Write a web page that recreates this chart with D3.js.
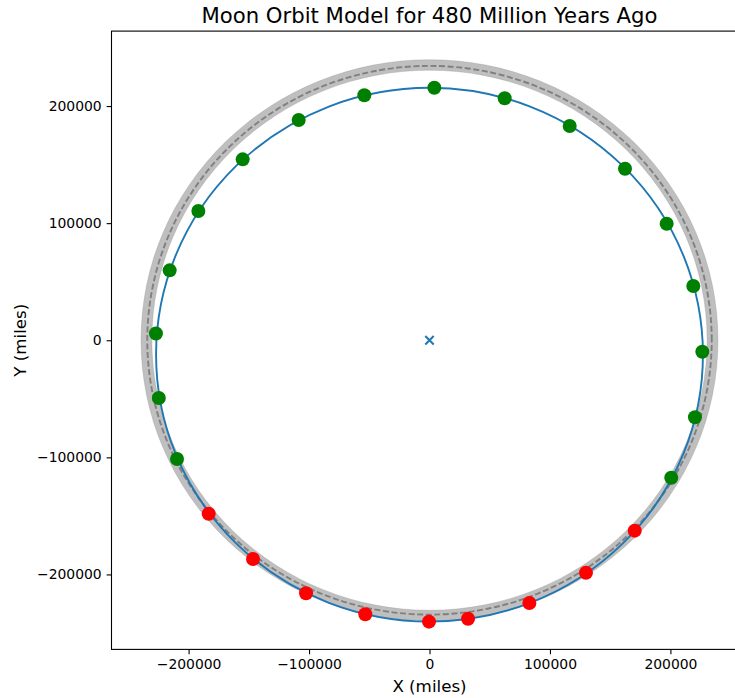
<!DOCTYPE html>
<html>
<head>
<meta charset="utf-8">
<script src="https://cdn.jsdelivr.net/npm/d3@7"></script>
<style>
  body { margin: 0; background: #fff; }
  text { font-family: "DejaVu Sans", sans-serif; }
</style>
</head>
<body>
<div id="chart"></div>
<script>
const width = 735;
const height = 698;

// moon positions (miles)
const moonX = [226500, 219000, 196900, 162300, 116400, 62400, 4000, -54100, -108600, -155100,
    -191900, -215700, -227100, -224700, -209600, -183300, -146500, -102500, -53300, -400,
    32000, 82900, 129900, 170400, 200700, 220400];
const moonY = [-9800, 46300, 99500, 146500, 182900, 206600, 215600, 209200, 188100, 154500,
    110400, 59700, 5800, -49300, -101400, -148100, -186800, -216100, -234000, -240300,
    -237800, -224400, -198500, -162600, -117400, -65800];
// points that fall inside the shaded zone
const inZone = [false, false, false, false, false, false, false, false, false, false,
    false, false, false, false, false, true, true, true, true, true,
    true, true, true, true, false, false];

// orbit ellipse (centre and semi-axes) and the reference ring
const orbitCenter = [0, -12300];
const orbitRadii = [227000, 227900];
const ringRadius = 234300;
const zoneInner = 230500;
const zoneOuter = 239500;

const tickValues = [-200000, -100000, 0, 100000, 200000];
const domain = [-264000, 264000];

const x = d3.scaleLinear().domain(domain).range([111.5, 747.5]);
const y = d3.scaleLinear().domain(domain).range([649.4, 31.1]);

const svg = d3.select("#chart").append("svg")
    .attr("width", width)
    .attr("height", height);

// ellipse path in data coordinates
function ellipsePath(cx, cy, rx, ry) {
    const x0 = x(cx - rx), x1 = x(cx + rx), yc = y(cy);
    const px = x(cx + rx) - x(cx), py = y(cy) - y(cy + ry);
    return `M${x1},${yc}A${px},${py} 0 1 0 ${x0},${yc}A${px},${py} 0 1 0 ${x1},${yc}Z`;
}

const plot = svg.append("g");

// shaded zone
plot.append("path")
    .attr("d", ellipsePath(0, 0, zoneOuter, zoneOuter) + ellipsePath(0, 0, zoneInner, zoneInner))
    .attr("fill-rule", "evenodd")
    .attr("fill", "gray")
    .attr("fill-opacity", 0.5)
    .attr("stroke", "gray")
    .attr("stroke-opacity", 0.25)
    .attr("stroke-width", 1);

// dashed reference circle
plot.append("path")
    .attr("d", ellipsePath(0, 0, ringRadius, ringRadius))
    .attr("fill", "none")
    .attr("stroke", "gray")
    .attr("stroke-width", 1.9)
    .attr("stroke-dasharray", "6 2.6");

// orbit
plot.append("path")
    .attr("d", ellipsePath(orbitCenter[0], orbitCenter[1], orbitRadii[0], orbitRadii[1]))
    .attr("fill", "none")
    .attr("stroke", "#1f77b4")
    .attr("stroke-width", 1.9);

const color = d3.scaleOrdinal().domain([false, true]).range(["green", "red"]);

plot.selectAll("circle.moon")
    .data(moonX.map((d, i) => ({ x: d, y: moonY[i], zone: inZone[i] })))
    .enter().append("circle")
    .attr("class", "moon")
    .attr("cx", d => x(d.x))
    .attr("cy", d => y(d.y))
    .attr("r", 7)
    .attr("fill", d => color(d.zone));

// earth marker
const ex = x(0), ey = y(0);
plot.append("path")
    .attr("d", `M${ex - 4.2},${ey - 4.2}L${ex + 4.2},${ey + 4.2}M${ex - 4.2},${ey + 4.2}L${ex + 4.2},${ey - 4.2}`)
    .attr("stroke", "#1f77b4")
    .attr("stroke-width", 2);

// axes
const xAxis = svg.append("g")
    .attr("transform", `translate(0,${y.range()[0]})`)
    .call(d3.axisBottom(x).tickValues(tickValues).tickFormat(d3.format("d")).tickSize(4.9).tickPadding(4.9));
const yAxis = svg.append("g")
    .attr("transform", `translate(${x.range()[0]},0)`)
    .call(d3.axisLeft(y).tickValues(tickValues).tickFormat(d3.format("d")).tickSize(4.9).tickPadding(4.9));

[xAxis, yAxis].forEach(g => {
    g.select(".domain").remove();
    g.selectAll(".tick line").attr("stroke", "#000").attr("stroke-width", 1.1);
    g.selectAll(".tick text").attr("font-size", "13.9px").attr("fill", "#000")
        .style("font-family", "'DejaVu Sans', sans-serif");
});

// frame
svg.append("rect")
    .attr("x", x.range()[0])
    .attr("y", y.range()[1])
    .attr("width", x.range()[1] - x.range()[0])
    .attr("height", y.range()[0] - y.range()[1])
    .attr("fill", "none")
    .attr("stroke", "#000")
    .attr("stroke-width", 1.1);

svg.append("text")
    .attr("x", 429.5)
    .attr("y", 23)
    .attr("text-anchor", "middle")
    .attr("font-size", "21.2px")
    .text("Moon Orbit Model for 480 Million Years Ago");

svg.append("text")
    .attr("x", 429.5)
    .attr("y", 692)
    .attr("text-anchor", "middle")
    .attr("font-size", "16.7px")
    .text("X (miles)");

svg.append("text")
    .attr("transform", "translate(26,340.25)rotate(-90)")
    .attr("text-anchor", "middle")
    .attr("font-size", "16.7px")
    .text("Y (miles)");
</script>
</body>
</html>
